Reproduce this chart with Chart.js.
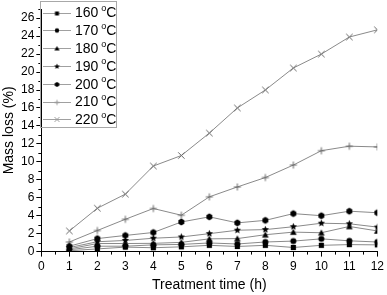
<!DOCTYPE html>
<html>
<head>
<meta charset="utf-8">
<script src="https://cdn.jsdelivr.net/npm/chart.js@4/dist/chart.umd.min.js"></script>
<style>
  html, body { margin: 0; padding: 0; background: #fff; }
  #wrap { width: 387px; height: 295px; position: relative; }
</style>
</head>
<body>
<div id="wrap"><canvas id="chart"></canvas></div>
<script>
// treatment time (h)
const hours = [1, 2, 3, 4, 5, 6, 7, 8, 9, 10, 11, 12];
const seriesNames = ['160 °C', '170 °C', '180 °C', '190 °C', '200 °C', '210 °C', '220 °C'];

// mass loss (%) per temperature
const loss160 = [0.10, 0.30, 0.50, 0.43, 0.53, 0.70, 0.57, 0.70, 0.46, 0.70, 0.78, 0.75];
const loss170 = [0.20, 0.60, 0.60, 0.75, 0.80, 0.96, 0.85, 1.07, 1.17, 1.42, 1.20, 1.07];
const loss180 = [0.30, 0.90, 0.90, 0.92, 1.03, 1.42, 1.45, 1.88, 2.17, 2.10, 2.80, 2.30];
const loss190 = [0.45, 1.10, 1.24, 1.49, 1.63, 2.00, 2.38, 2.45, 2.77, 3.16, 3.10, 2.73];
const loss200 = [0.60, 1.45, 1.80, 2.13, 3.30, 3.87, 3.20, 3.48, 4.23, 4.00, 4.50, 4.33];
const loss210 = [1.07, 2.35, 3.60, 4.80, 4.05, 6.10, 7.20, 8.25, 9.64, 11.24, 11.74, 11.66];
const loss220 = [2.30, 4.83, 6.40, 9.53, 10.70, 13.20, 16.00, 18.00, 20.45, 22.00, 23.90, 24.70];

const xTicks = [0, 1, 2, 3, 4, 5, 6, 7, 8, 9, 10, 11, 12];
const yTicks = [0, 2, 4, 6, 8, 10, 12, 14, 16, 18, 20, 22, 24, 26];

const FONT = "'Liberation Sans', Arial, sans-serif";

// small canvas markers so plot and legend share them
function makeMarker(kind, r, color) {
    const s = Math.ceil(r * 2 + 3);
    const c = document.createElement('canvas');
    c.width = c.height = s;
    const g = c.getContext('2d');
    const m = s / 2;
    g.fillStyle = color;
    g.strokeStyle = color;
    g.lineWidth = 1;
    g.beginPath();
    if (kind === 'square') {
        g.rect(m - r, m - r, r * 2, r * 2);
        g.fill();
    } else if (kind === 'circle') {
        g.arc(m, m, r, 0, Math.PI * 2);
        g.fill();
    } else if (kind === 'triangle') {
        g.moveTo(m, m - r);
        g.lineTo(m + r, m + r * 0.8);
        g.lineTo(m - r, m + r * 0.8);
        g.closePath();
        g.fill();
    } else if (kind === 'star') {
        for (let i = 0; i < 10; i++) {
            const rad = i % 2 ? r * 0.45 : r;
            const a = -Math.PI / 2 + i * Math.PI / 5;
            g.lineTo(m + rad * Math.cos(a), m + rad * Math.sin(a));
        }
        g.closePath();
        g.fill();
    } else if (kind === 'hex') {
        for (let i = 0; i < 6; i++) {
            const a = -Math.PI / 2 + i * Math.PI / 3;
            g.lineTo(m + r * Math.cos(a), m + r * Math.sin(a));
        }
        g.closePath();
        g.fill();
    } else if (kind === 'plus') {
        g.moveTo(m - r, m); g.lineTo(m + r, m);
        g.moveTo(m, m - r); g.lineTo(m, m + r);
        g.stroke();
    } else if (kind === 'x') {
        const d = r * 0.8;
        g.moveTo(m - d, m - d); g.lineTo(m + d, m + d);
        g.moveTo(m + d, m - d); g.lineTo(m - d, m + d);
        g.stroke();
    }
    return c;
}

const markers = [
    makeMarker('square', 2.6, '#000'),
    makeMarker('circle', 3, '#000'),
    makeMarker('triangle', 3.3, '#000'),
    makeMarker('star', 3.8, '#000'),
    makeMarker('hex', 3.4, '#000'),
    makeMarker('plus', 3.5, '#666'),
    makeMarker('x', 4, '#666')
];
const legendMarkers = [
    makeMarker('square', 2, '#000'),
    makeMarker('circle', 2.2, '#000'),
    makeMarker('triangle', 2.6, '#000'),
    makeMarker('star', 3, '#000'),
    makeMarker('hex', 2.6, '#000'),
    makeMarker('plus', 2.5, '#999'),
    makeMarker('x', 3, '#999')
];
const allLoss = [loss160, loss170, loss180, loss190, loss200, loss210, loss220];

const datasets = allLoss.map((vals, i) => ({
    label: seriesNames[i],
    data: hours.map((h, j) => ({ x: h, y: vals[j] })),
    borderColor: '#8a8a8a',
    borderWidth: 1,
    pointStyle: markers[i],
    pointRadius: 4,
    tension: 0
}));

// minor ticks, axis titles and the in-plot legend
const extras = {
    id: 'extras',
    afterDraw(chart) {
        const ctx = chart.ctx;
        const xs = chart.scales.x, ys = chart.scales.y;
        ctx.save();
        ctx.strokeStyle = '#000';
        ctx.lineWidth = 1;
        ctx.beginPath();
        for (let v = 0.5; v < 12; v += 1) {
            const px = Math.round(xs.getPixelForValue(v)) + 0.5;
            ctx.moveTo(px, ys.bottom);
            ctx.lineTo(px, ys.bottom + 3);
        }
        for (let v = 1; v <= 27; v += 2) {
            const py = Math.round(ys.getPixelForValue(v)) + 0.5;
            ctx.moveTo(xs.left, py);
            ctx.lineTo(xs.left - 3, py);
        }
        ctx.stroke();

        // axis titles
        ctx.fillStyle = '#000';
        ctx.font = '14px ' + FONT;
        ctx.textAlign = 'center';
        ctx.textBaseline = 'middle';
        ctx.fillText('Treatment time (h)', (xs.left + xs.right) / 2, 285);
        ctx.save();
        ctx.translate(9, (ys.top + ys.bottom) / 2);
        ctx.rotate(-Math.PI / 2);
        ctx.fillText('Mass loss (%)', 0, 0);
        ctx.restore();

        // legend box
        const bx = 40.5, by = 1.5, bw = 76, bh = 126;
        ctx.strokeStyle = '#a8a8a8';
        ctx.strokeRect(bx, by, bw, bh);
        ctx.textAlign = 'left';
        chart.data.datasets.forEach((ds, i) => {
            const y = 12.5 + i * 17.8;
            ctx.strokeStyle = '#a0a0a0';
            ctx.beginPath();
            ctx.moveTo(43, Math.round(y) + 0.5);
            ctx.lineTo(71, Math.round(y) + 0.5);
            ctx.stroke();
            const mk = legendMarkers[i];
            ctx.drawImage(mk, 57 - mk.width / 2, Math.round(y) + 0.5 - mk.height / 2);
            ctx.fillStyle = '#000';
            const parts = ds.label.split(' ');
            ctx.font = '14px ' + FONT;
            ctx.fillText(parts[0], 75, y + 1);
            const w = ctx.measureText(parts[0] + ' ').width;
            ctx.font = '9px ' + FONT;
            ctx.fillText('o', 75 + w - 1, y - 4);
            ctx.font = '14px ' + FONT;
            ctx.fillText('C', 75 + w + 4, y + 1);
        });
        ctx.restore();
    }
};

new Chart(document.getElementById('chart'), {
    type: 'line',
    data: { datasets },
    plugins: [extras],
    options: {
        responsive: true,
        maintainAspectRatio: false,
        animation: false,
        layout: { padding: { top: 1, right: 0, left: 19, bottom: 18 } },
        plugins: { legend: { display: false }, tooltip: { enabled: false } },
        scales: {
            x: {
                type: 'linear',
                min: 0,
                max: 12,
                afterBuildTicks: s => { s.ticks = xTicks.map(v => ({ value: v })); },
                grid: { drawOnChartArea: false, drawTicks: true, tickLength: 5, color: '#000' },
                border: { color: '#000', width: 1 },
                ticks: { color: '#000', font: { family: FONT, size: 12 }, padding: 3, maxRotation: 0 }
            },
            y: {
                min: 0,
                max: 27,
                afterBuildTicks: s => { s.ticks = yTicks.map(v => ({ value: v })); },
                grid: { drawOnChartArea: false, drawTicks: true, tickLength: 5, color: '#000' },
                border: { color: '#000', width: 1 },
                ticks: { color: '#000', font: { family: FONT, size: 12 }, padding: 2 }
            }
        }
    }
});
</script>
</body>
</html>
